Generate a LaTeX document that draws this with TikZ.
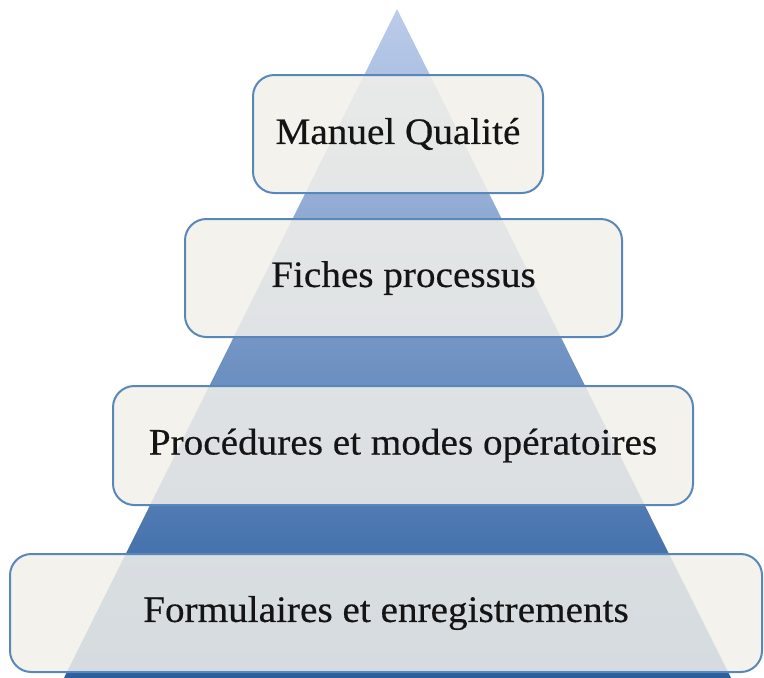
\documentclass[tikz,border=0pt]{standalone}
\usepackage{fontspec}
\setmainfont{Liberation Serif}[FakeStretch=1.05,FakeBold=0.4]
\definecolor{tritop}{HTML}{BCCCEA}
\definecolor{tribot}{HTML}{2B5E9F}
\definecolor{boxfill}{HTML}{F2F0EA}
\definecolor{boxline}{HTML}{5A87B9}
\tikzset{
  lvl/.style={draw=boxline, line width=1.5pt, fill=boxfill, fill opacity=0.86,
    text opacity=1, rounded corners=16pt, inner sep=0pt,
    font=\fontsize{28}{32}\selectfont, text=black!92},
}
\begin{document}
\begin{tikzpicture}[x=0.75pt,y=-0.75pt]
\useasboundingbox (0,0) rectangle (764,678);
\begin{scope}
\clip (0,0) rectangle (764,678);
\shade[top color=tritop, bottom color=tribot] (397,9) -- (731,678) -- (64,678) -- cycle;
\end{scope}
\node[lvl, minimum width=217.5pt, minimum height=88.5pt] (mq) at (398,134) {Manuel Qualité};
\node[lvl, minimum width=327.75pt, minimum height=88.5pt] (fp) at (403.5,278) {Fiches processus};
\node[lvl, minimum width=435pt, minimum height=89.25pt] (pm) at (403,445.5) {Procédures et modes opératoires};
\node[lvl, minimum width=564pt, minimum height=88.5pt] (fe) at (386,613) {Formulaires et enregistrements};
\end{tikzpicture}
\end{document}
